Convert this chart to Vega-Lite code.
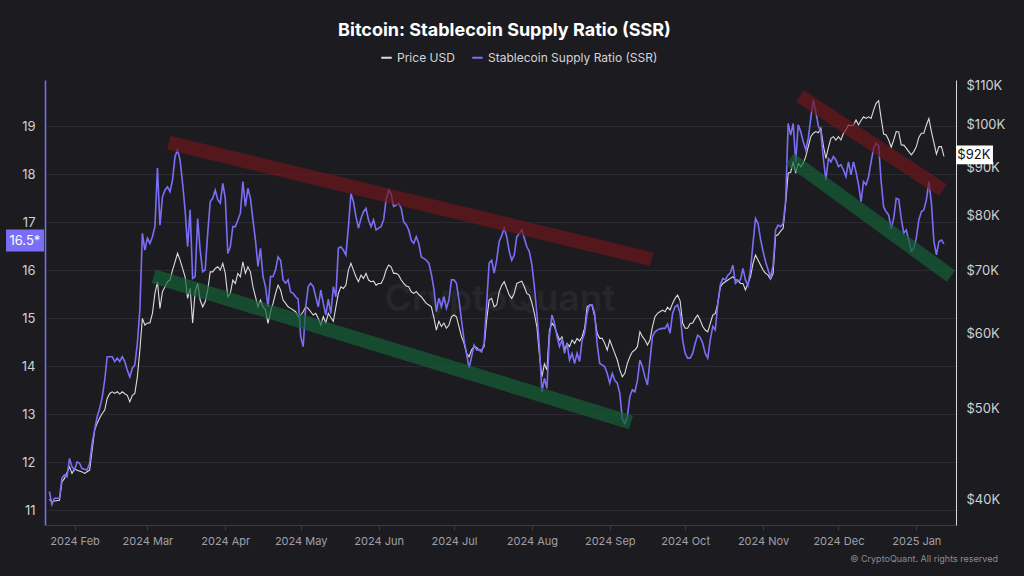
{
  "$schema": "https://vega.github.io/schema/vega-lite/v6.json",
  "width": 911,
  "height": 445,
  "autosize": {"type": "none"},
  "padding": {"left": 45, "top": 80, "right": 68, "bottom": 51},
  "background": "#1c1c20",
  "config": {"view": {"stroke": null}, "font": "Inter"},
  "title": {"text": "Bitcoin: Stablecoin Supply Ratio (SSR)", "color": "#ffffff", "fontSize": 18, "fontWeight": "bold", "font": "Inter", "anchor": "middle", "frame": "group", "dx": 4, "dy": 19, "offset": 16, "baseline": "alphabetic"},
  "datasets": {
    "ssr": [
      {"date":"2024-01-22","ssr":11.39},{"date":"2024-01-23","ssr":11.12},{"date":"2024-01-24","ssr":11.25},{"date":"2024-01-26","ssr":11.25},{"date":"2024-01-27","ssr":11.67},{"date":"2024-01-28","ssr":11.74},{"date":"2024-01-29","ssr":11.70},{"date":"2024-01-30","ssr":12.08},{"date":"2024-01-31","ssr":11.91},
      {"date":"2024-02-01","ssr":11.84},{"date":"2024-02-02","ssr":12.01},{"date":"2024-02-03","ssr":11.98},{"date":"2024-02-04","ssr":11.87},{"date":"2024-02-06","ssr":11.84},{"date":"2024-02-07","ssr":11.98},{"date":"2024-02-08","ssr":12.40},{"date":"2024-02-10","ssr":12.95},{"date":"2024-02-11","ssr":13.12},{"date":"2024-02-12","ssr":13.35},{"date":"2024-02-13","ssr":13.71},{"date":"2024-02-14","ssr":14.20},{"date":"2024-02-15","ssr":14.20},{"date":"2024-02-16","ssr":14.20},{"date":"2024-02-17","ssr":14.10},{"date":"2024-02-18","ssr":14.17},{"date":"2024-02-19","ssr":14.10},{"date":"2024-02-20","ssr":14.20},{"date":"2024-02-21","ssr":14.10},{"date":"2024-02-22","ssr":13.92},{"date":"2024-02-23","ssr":13.78},{"date":"2024-02-24","ssr":13.96},{"date":"2024-02-25","ssr":14.03},{"date":"2024-02-26","ssr":14.48},{"date":"2024-02-27","ssr":15.17},{"date":"2024-02-28","ssr":16.77},{"date":"2024-02-29","ssr":16.42},
      {"date":"2024-03-01","ssr":16.67},{"date":"2024-03-02","ssr":16.56},{"date":"2024-03-03","ssr":16.70},{"date":"2024-03-04","ssr":16.91},{"date":"2024-03-05","ssr":18.13},{"date":"2024-03-06","ssr":16.94},{"date":"2024-03-07","ssr":17.53},{"date":"2024-03-08","ssr":17.67},{"date":"2024-03-09","ssr":17.74},{"date":"2024-03-10","ssr":17.64},{"date":"2024-03-11","ssr":17.88},{"date":"2024-03-12","ssr":18.37},{"date":"2024-03-13","ssr":18.51},{"date":"2024-03-14","ssr":18.30},{"date":"2024-03-15","ssr":17.81},{"date":"2024-03-16","ssr":17.26},{"date":"2024-03-17","ssr":16.49},{"date":"2024-03-18","ssr":17.26},{"date":"2024-03-19","ssr":15.83},{"date":"2024-03-20","ssr":15.87},{"date":"2024-03-21","ssr":17.08},{"date":"2024-03-22","ssr":16.42},{"date":"2024-03-23","ssr":15.97},{"date":"2024-03-24","ssr":16.01},{"date":"2024-03-25","ssr":16.77},{"date":"2024-03-26","ssr":17.43},{"date":"2024-03-27","ssr":17.50},{"date":"2024-03-28","ssr":17.67},{"date":"2024-03-29","ssr":17.47},{"date":"2024-03-30","ssr":17.40},{"date":"2024-03-31","ssr":17.81},
      {"date":"2024-04-01","ssr":17.50},{"date":"2024-04-02","ssr":16.35},{"date":"2024-04-03","ssr":16.49},{"date":"2024-04-04","ssr":16.91},{"date":"2024-04-05","ssr":16.91},{"date":"2024-04-06","ssr":17.05},{"date":"2024-04-07","ssr":17.19},{"date":"2024-04-08","ssr":17.85},{"date":"2024-04-09","ssr":17.33},{"date":"2024-04-10","ssr":17.71},{"date":"2024-04-11","ssr":17.50},{"date":"2024-04-12","ssr":17.05},{"date":"2024-04-13","ssr":16.63},{"date":"2024-04-14","ssr":16.08},{"date":"2024-04-15","ssr":16.46},{"date":"2024-04-16","ssr":15.87},{"date":"2024-04-17","ssr":15.66},{"date":"2024-04-18","ssr":15.24},{"date":"2024-04-19","ssr":15.87},{"date":"2024-04-20","ssr":15.87},{"date":"2024-04-21","ssr":16.01},{"date":"2024-04-22","ssr":16.28},{"date":"2024-04-23","ssr":16.21},{"date":"2024-04-24","ssr":15.80},{"date":"2024-04-25","ssr":15.73},{"date":"2024-04-26","ssr":15.80},{"date":"2024-04-27","ssr":15.55},{"date":"2024-04-28","ssr":15.52},{"date":"2024-04-29","ssr":15.45},{"date":"2024-04-30","ssr":15.40},
      {"date":"2024-05-01","ssr":14.62},{"date":"2024-05-02","ssr":14.41},{"date":"2024-05-03","ssr":15.24},{"date":"2024-05-04","ssr":15.66},{"date":"2024-05-05","ssr":15.73},{"date":"2024-05-06","ssr":15.66},{"date":"2024-05-07","ssr":15.45},{"date":"2024-05-08","ssr":15.24},{"date":"2024-05-09","ssr":15.59},{"date":"2024-05-10","ssr":15.31},{"date":"2024-05-11","ssr":15.07},{"date":"2024-05-12","ssr":15.40},{"date":"2024-05-13","ssr":15.10},{"date":"2024-05-14","ssr":15.66},{"date":"2024-05-15","ssr":15.45},{"date":"2024-05-16","ssr":16.46},{"date":"2024-05-17","ssr":16.49},{"date":"2024-05-18","ssr":16.42},{"date":"2024-05-19","ssr":16.32},{"date":"2024-05-20","ssr":16.91},{"date":"2024-05-21","ssr":17.60},{"date":"2024-05-22","ssr":17.43},{"date":"2024-05-23","ssr":17.12},{"date":"2024-05-24","ssr":16.88},{"date":"2024-05-25","ssr":17.08},{"date":"2024-05-26","ssr":17.22},{"date":"2024-05-27","ssr":17.29},{"date":"2024-05-28","ssr":17.05},{"date":"2024-05-29","ssr":16.91},{"date":"2024-05-30","ssr":17.05},{"date":"2024-05-31","ssr":16.84},
      {"date":"2024-06-01","ssr":16.88},{"date":"2024-06-02","ssr":16.91},{"date":"2024-06-03","ssr":17.05},{"date":"2024-06-04","ssr":17.47},{"date":"2024-06-05","ssr":17.67},{"date":"2024-06-06","ssr":17.60},{"date":"2024-06-07","ssr":17.33},{"date":"2024-06-08","ssr":17.36},{"date":"2024-06-09","ssr":17.40},{"date":"2024-06-10","ssr":17.29},{"date":"2024-06-11","ssr":17.01},{"date":"2024-06-12","ssr":16.95},{"date":"2024-06-13","ssr":16.84},{"date":"2024-06-14","ssr":16.63},{"date":"2024-06-15","ssr":16.56},{"date":"2024-06-16","ssr":16.70},{"date":"2024-06-17","ssr":16.56},{"date":"2024-06-18","ssr":16.28},{"date":"2024-06-19","ssr":16.25},{"date":"2024-06-20","ssr":16.21},{"date":"2024-06-21","ssr":16.15},{"date":"2024-06-22","ssr":15.92},{"date":"2024-06-23","ssr":15.62},{"date":"2024-06-24","ssr":15.14},{"date":"2024-06-25","ssr":15.42},{"date":"2024-06-26","ssr":15.24},{"date":"2024-06-27","ssr":15.45},{"date":"2024-06-28","ssr":15.21},{"date":"2024-06-29","ssr":15.38},{"date":"2024-06-30","ssr":15.80},
      {"date":"2024-07-01","ssr":15.80},{"date":"2024-07-02","ssr":15.73},{"date":"2024-07-03","ssr":15.38},{"date":"2024-07-04","ssr":14.96},{"date":"2024-07-05","ssr":14.55},{"date":"2024-07-06","ssr":14.27},{"date":"2024-07-07","ssr":13.96},{"date":"2024-07-08","ssr":14.20},{"date":"2024-07-09","ssr":14.44},{"date":"2024-07-10","ssr":14.34},{"date":"2024-07-11","ssr":14.34},{"date":"2024-07-12","ssr":14.30},{"date":"2024-07-13","ssr":14.48},{"date":"2024-07-14","ssr":15.30},{"date":"2024-07-15","ssr":16.15},{"date":"2024-07-16","ssr":16.21},{"date":"2024-07-17","ssr":15.94},{"date":"2024-07-18","ssr":16.21},{"date":"2024-07-19","ssr":16.60},{"date":"2024-07-20","ssr":16.72},{"date":"2024-07-21","ssr":16.88},{"date":"2024-07-22","ssr":16.70},{"date":"2024-07-23","ssr":16.39},{"date":"2024-07-24","ssr":16.21},{"date":"2024-07-25","ssr":16.32},{"date":"2024-07-26","ssr":16.70},{"date":"2024-07-27","ssr":16.77},{"date":"2024-07-28","ssr":16.84},{"date":"2024-07-29","ssr":16.67},{"date":"2024-07-30","ssr":16.49},{"date":"2024-07-31","ssr":16.39},
      {"date":"2024-08-01","ssr":16.12},{"date":"2024-08-02","ssr":15.66},{"date":"2024-08-03","ssr":15.10},{"date":"2024-08-04","ssr":14.40},{"date":"2024-08-05","ssr":13.47},{"date":"2024-08-06","ssr":13.75},{"date":"2024-08-07","ssr":13.54},{"date":"2024-08-08","ssr":14.62},{"date":"2024-08-09","ssr":15.07},{"date":"2024-08-10","ssr":14.90},{"date":"2024-08-11","ssr":14.62},{"date":"2024-08-12","ssr":14.41},{"date":"2024-08-13","ssr":14.55},{"date":"2024-08-14","ssr":14.27},{"date":"2024-08-15","ssr":14.48},{"date":"2024-08-16","ssr":14.13},{"date":"2024-08-17","ssr":14.27},{"date":"2024-08-18","ssr":14.06},{"date":"2024-08-19","ssr":14.27},{"date":"2024-08-20","ssr":14.10},{"date":"2024-08-21","ssr":14.55},{"date":"2024-08-22","ssr":14.69},{"date":"2024-08-23","ssr":15.10},{"date":"2024-08-24","ssr":15.28},{"date":"2024-08-25","ssr":15.28},{"date":"2024-08-26","ssr":15.10},{"date":"2024-08-27","ssr":14.45},{"date":"2024-08-28","ssr":14.06},{"date":"2024-08-29","ssr":14.03},{"date":"2024-08-30","ssr":13.99},{"date":"2024-08-31","ssr":13.85},
      {"date":"2024-09-01","ssr":13.65},{"date":"2024-09-02","ssr":13.85},{"date":"2024-09-03","ssr":13.71},{"date":"2024-09-04","ssr":13.65},{"date":"2024-09-05","ssr":13.44},{"date":"2024-09-06","ssr":12.90},{"date":"2024-09-07","ssr":12.81},{"date":"2024-09-08","ssr":12.95},{"date":"2024-09-09","ssr":13.37},{"date":"2024-09-10","ssr":13.51},{"date":"2024-09-11","ssr":13.47},{"date":"2024-09-12","ssr":13.70},{"date":"2024-09-13","ssr":14.13},{"date":"2024-09-14","ssr":13.99},{"date":"2024-09-15","ssr":13.78},{"date":"2024-09-16","ssr":13.61},{"date":"2024-09-17","ssr":14.13},{"date":"2024-09-18","ssr":14.62},{"date":"2024-09-19","ssr":14.72},{"date":"2024-09-20","ssr":14.76},{"date":"2024-09-21","ssr":14.78},{"date":"2024-09-22","ssr":14.79},{"date":"2024-09-23","ssr":14.79},{"date":"2024-09-24","ssr":14.88},{"date":"2024-09-25","ssr":14.69},{"date":"2024-09-26","ssr":15.10},{"date":"2024-09-27","ssr":15.24},{"date":"2024-09-28","ssr":15.28},{"date":"2024-09-29","ssr":15.10},{"date":"2024-09-30","ssr":14.55},
      {"date":"2024-10-01","ssr":14.27},{"date":"2024-10-02","ssr":14.17},{"date":"2024-10-03","ssr":14.17},{"date":"2024-10-04","ssr":14.27},{"date":"2024-10-05","ssr":14.48},{"date":"2024-10-06","ssr":14.65},{"date":"2024-10-07","ssr":14.60},{"date":"2024-10-08","ssr":14.48},{"date":"2024-10-09","ssr":14.27},{"date":"2024-10-10","ssr":14.17},{"date":"2024-10-11","ssr":14.55},{"date":"2024-10-12","ssr":14.83},{"date":"2024-10-13","ssr":14.76},{"date":"2024-10-14","ssr":15.31},{"date":"2024-10-15","ssr":15.70},{"date":"2024-10-16","ssr":15.83},{"date":"2024-10-17","ssr":15.80},{"date":"2024-10-18","ssr":15.90},{"date":"2024-10-19","ssr":15.95},{"date":"2024-10-20","ssr":16.11},{"date":"2024-10-21","ssr":15.73},{"date":"2024-10-22","ssr":15.78},{"date":"2024-10-23","ssr":15.80},{"date":"2024-10-24","ssr":16.04},{"date":"2024-10-25","ssr":15.80},{"date":"2024-10-26","ssr":15.68},{"date":"2024-10-27","ssr":16.01},{"date":"2024-10-28","ssr":16.56},{"date":"2024-10-29","ssr":17.08},{"date":"2024-10-30","ssr":16.98},{"date":"2024-10-31","ssr":16.65},
      {"date":"2024-11-01","ssr":16.40},{"date":"2024-11-02","ssr":16.18},{"date":"2024-11-03","ssr":16.01},{"date":"2024-11-04","ssr":15.85},{"date":"2024-11-05","ssr":16.10},{"date":"2024-11-06","ssr":16.84},{"date":"2024-11-07","ssr":16.94},{"date":"2024-11-08","ssr":16.91},{"date":"2024-11-09","ssr":16.98},{"date":"2024-11-10","ssr":17.46},{"date":"2024-11-11","ssr":19.06},{"date":"2024-11-12","ssr":18.82},{"date":"2024-11-13","ssr":19.06},{"date":"2024-11-14","ssr":18.26},{"date":"2024-11-15","ssr":19.03},{"date":"2024-11-16","ssr":18.89},{"date":"2024-11-17","ssr":18.68},{"date":"2024-11-18","ssr":18.51},{"date":"2024-11-19","ssr":18.75},{"date":"2024-11-20","ssr":19.17},{"date":"2024-11-21","ssr":19.55},{"date":"2024-11-22","ssr":19.30},{"date":"2024-11-23","ssr":19.01},{"date":"2024-11-24","ssr":18.89},{"date":"2024-11-25","ssr":18.33},{"date":"2024-11-26","ssr":17.88},{"date":"2024-11-27","ssr":18.33},{"date":"2024-11-28","ssr":18.26},{"date":"2024-11-29","ssr":18.37},{"date":"2024-11-30","ssr":18.30},
      {"date":"2024-12-01","ssr":18.16},{"date":"2024-12-02","ssr":18.20},{"date":"2024-12-03","ssr":18.09},{"date":"2024-12-04","ssr":17.95},{"date":"2024-12-05","ssr":18.26},{"date":"2024-12-06","ssr":17.99},{"date":"2024-12-07","ssr":18.26},{"date":"2024-12-08","ssr":18.05},{"date":"2024-12-09","ssr":17.78},{"date":"2024-12-10","ssr":17.43},{"date":"2024-12-11","ssr":17.85},{"date":"2024-12-12","ssr":17.78},{"date":"2024-12-13","ssr":17.95},{"date":"2024-12-14","ssr":18.26},{"date":"2024-12-15","ssr":18.54},{"date":"2024-12-16","ssr":18.65},{"date":"2024-12-17","ssr":18.60},{"date":"2024-12-18","ssr":17.85},{"date":"2024-12-19","ssr":17.32},{"date":"2024-12-20","ssr":17.22},{"date":"2024-12-21","ssr":17.15},{"date":"2024-12-22","ssr":16.87},{"date":"2024-12-23","ssr":17.08},{"date":"2024-12-24","ssr":17.50},{"date":"2024-12-25","ssr":17.48},{"date":"2024-12-26","ssr":17.08},{"date":"2024-12-27","ssr":16.77},{"date":"2024-12-28","ssr":16.84},{"date":"2024-12-29","ssr":16.63},{"date":"2024-12-30","ssr":16.40},{"date":"2024-12-31","ssr":16.46},
      {"date":"2025-01-01","ssr":16.67},{"date":"2025-01-02","ssr":17.05},{"date":"2025-01-03","ssr":17.22},{"date":"2025-01-04","ssr":17.26},{"date":"2025-01-05","ssr":17.47},{"date":"2025-01-06","ssr":17.85},{"date":"2025-01-07","ssr":17.40},{"date":"2025-01-08","ssr":16.60},{"date":"2025-01-09","ssr":16.32},{"date":"2025-01-10","ssr":16.60},{"date":"2025-01-11","ssr":16.63},{"date":"2025-01-12","ssr":16.55}
    ],
    "price": [
      {"date":"2024-01-22","price":40000},{"date":"2024-01-23","price":39770},{"date":"2024-01-24","price":39850},{"date":"2024-01-26","price":39930},{"date":"2024-01-27","price":41760},{"date":"2024-01-28","price":42110},{"date":"2024-01-30","price":43320},{"date":"2024-01-31","price":42630},
      {"date":"2024-02-01","price":43150},{"date":"2024-02-02","price":42970},{"date":"2024-02-04","price":42790},{"date":"2024-02-05","price":42630},{"date":"2024-02-06","price":42800},{"date":"2024-02-07","price":42970},{"date":"2024-02-08","price":45130},{"date":"2024-02-09","price":47390},{"date":"2024-02-10","price":48170},{"date":"2024-02-11","price":48800},{"date":"2024-02-12","price":49360},{"date":"2024-02-13","price":49760},{"date":"2024-02-14","price":51200},{"date":"2024-02-15","price":51830},{"date":"2024-02-16","price":52040},{"date":"2024-02-17","price":51830},{"date":"2024-02-18","price":52040},{"date":"2024-02-19","price":51750},{"date":"2024-02-20","price":52040},{"date":"2024-02-21","price":51800},{"date":"2024-02-22","price":51600},{"date":"2024-02-23","price":50780},{"date":"2024-02-24","price":51600},{"date":"2024-02-25","price":51830},{"date":"2024-02-26","price":53980},{"date":"2024-02-27","price":57630},{"date":"2024-02-28","price":62270},{"date":"2024-02-29","price":61260},
      {"date":"2024-03-01","price":61570},{"date":"2024-03-02","price":61570},{"date":"2024-03-03","price":63030},{"date":"2024-03-04","price":66190},{"date":"2024-03-05","price":68100},{"date":"2024-03-06","price":63810},{"date":"2024-03-07","price":66450},{"date":"2024-03-08","price":67270},{"date":"2024-03-09","price":68100},{"date":"2024-03-10","price":68380},{"date":"2024-03-11","price":70070},{"date":"2024-03-12","price":71500},{"date":"2024-03-13","price":73000},{"date":"2024-03-14","price":71800},{"date":"2024-03-15","price":70350},{"date":"2024-03-16","price":68930},{"date":"2024-03-17","price":65390},{"date":"2024-03-18","price":67000},{"date":"2024-03-19","price":61570},{"date":"2024-03-20","price":66500},{"date":"2024-03-21","price":67820},{"date":"2024-03-22","price":65120},{"date":"2024-03-23","price":64060},{"date":"2024-03-24","price":64850},{"date":"2024-03-25","price":66730},{"date":"2024-03-26","price":69770},{"date":"2024-03-27","price":69770},{"date":"2024-03-28","price":70350},{"date":"2024-03-29","price":70640},{"date":"2024-03-30","price":70070},{"date":"2024-03-31","price":71220},
      {"date":"2024-04-01","price":69500},{"date":"2024-04-02","price":65650},{"date":"2024-04-03","price":66190},{"date":"2024-04-04","price":68380},{"date":"2024-04-05","price":67820},{"date":"2024-04-06","price":69500},{"date":"2024-04-07","price":68930},{"date":"2024-04-08","price":71510},{"date":"2024-04-09","price":69500},{"date":"2024-04-10","price":70640},{"date":"2024-04-11","price":69770},{"date":"2024-04-12","price":67270},{"date":"2024-04-13","price":65650},{"date":"2024-04-14","price":64060},{"date":"2024-04-15","price":65120},{"date":"2024-04-16","price":64060},{"date":"2024-04-17","price":63550},{"date":"2024-04-18","price":61510},{"date":"2024-04-19","price":63300},{"date":"2024-04-20","price":64590},{"date":"2024-04-21","price":66190},{"date":"2024-04-22","price":67540},{"date":"2024-04-23","price":66730},{"date":"2024-04-24","price":65120},{"date":"2024-04-25","price":64590},{"date":"2024-04-26","price":64060},{"date":"2024-04-27","price":63810},{"date":"2024-04-28","price":63550},{"date":"2024-04-29","price":63290},{"date":"2024-04-30","price":62520},
      {"date":"2024-05-01","price":62780},{"date":"2024-05-02","price":63290},{"date":"2024-05-03","price":64060},{"date":"2024-05-04","price":63810},{"date":"2024-05-05","price":63290},{"date":"2024-05-06","price":62780},{"date":"2024-05-07","price":63030},{"date":"2024-05-08","price":62270},{"date":"2024-05-09","price":61260},{"date":"2024-05-10","price":62520},{"date":"2024-05-11","price":61570},{"date":"2024-05-12","price":63030},{"date":"2024-05-13","price":62400},{"date":"2024-05-14","price":61820},{"date":"2024-05-15","price":64000},{"date":"2024-05-16","price":66190},{"date":"2024-05-17","price":67270},{"date":"2024-05-18","price":67000},{"date":"2024-05-19","price":67540},{"date":"2024-05-20","price":70070},{"date":"2024-05-21","price":71220},{"date":"2024-05-22","price":70070},{"date":"2024-05-23","price":68930},{"date":"2024-05-24","price":68100},{"date":"2024-05-25","price":69210},{"date":"2024-05-26","price":68660},{"date":"2024-05-27","price":69500},{"date":"2024-05-28","price":68380},{"date":"2024-05-29","price":68100},{"date":"2024-05-30","price":68200},{"date":"2024-05-31","price":67540},
      {"date":"2024-06-01","price":67820},{"date":"2024-06-02","price":67820},{"date":"2024-06-03","price":68660},{"date":"2024-06-04","price":70070},{"date":"2024-06-05","price":70930},{"date":"2024-06-06","price":70640},{"date":"2024-06-07","price":69500},{"date":"2024-06-08","price":69500},{"date":"2024-06-09","price":69210},{"date":"2024-06-10","price":68380},{"date":"2024-06-11","price":67820},{"date":"2024-06-12","price":67400},{"date":"2024-06-13","price":67270},{"date":"2024-06-14","price":66450},{"date":"2024-06-15","price":66190},{"date":"2024-06-16","price":66500},{"date":"2024-06-17","price":66000},{"date":"2024-06-18","price":65650},{"date":"2024-06-19","price":65120},{"date":"2024-06-20","price":64600},{"date":"2024-06-21","price":64330},{"date":"2024-06-22","price":64060},{"date":"2024-06-23","price":62400},{"date":"2024-06-24","price":60520},{"date":"2024-06-25","price":61820},{"date":"2024-06-26","price":61040},{"date":"2024-06-27","price":61570},{"date":"2024-06-28","price":60780},{"date":"2024-06-29","price":61260},{"date":"2024-06-30","price":62520},
      {"date":"2024-07-01","price":62780},{"date":"2024-07-02","price":62520},{"date":"2024-07-03","price":61040},{"date":"2024-07-04","price":59540},{"date":"2024-07-05","price":58580},{"date":"2024-07-06","price":57160},{"date":"2024-07-07","price":56690},{"date":"2024-07-08","price":57630},{"date":"2024-07-09","price":58110},{"date":"2024-07-10","price":58000},{"date":"2024-07-11","price":57630},{"date":"2024-07-12","price":57630},{"date":"2024-07-13","price":58110},{"date":"2024-07-14","price":62000},{"date":"2024-07-15","price":65120},{"date":"2024-07-16","price":65390},{"date":"2024-07-17","price":64060},{"date":"2024-07-18","price":64330},{"date":"2024-07-19","price":66450},{"date":"2024-07-20","price":67500},{"date":"2024-07-21","price":68100},{"date":"2024-07-22","price":67000},{"date":"2024-07-23","price":65930},{"date":"2024-07-24","price":65390},{"date":"2024-07-25","price":66190},{"date":"2024-07-26","price":67820},{"date":"2024-07-27","price":68000},{"date":"2024-07-28","price":68200},{"date":"2024-07-29","price":67270},{"date":"2024-07-30","price":66190},{"date":"2024-07-31","price":65930},
      {"date":"2024-08-01","price":64700},{"date":"2024-08-02","price":63030},{"date":"2024-08-03","price":61000},{"date":"2024-08-04","price":57000},{"date":"2024-08-05","price":53980},{"date":"2024-08-06","price":55700},{"date":"2024-08-07","price":54880},{"date":"2024-08-08","price":60520},{"date":"2024-08-09","price":61570},{"date":"2024-08-10","price":61040},{"date":"2024-08-11","price":60020},{"date":"2024-08-12","price":59060},{"date":"2024-08-13","price":59540},{"date":"2024-08-14","price":57630},{"date":"2024-08-15","price":58580},{"date":"2024-08-16","price":58110},{"date":"2024-08-17","price":59060},{"date":"2024-08-18","price":58580},{"date":"2024-08-19","price":59300},{"date":"2024-08-20","price":58900},{"date":"2024-08-21","price":59540},{"date":"2024-08-22","price":60800},{"date":"2024-08-23","price":64060},{"date":"2024-08-24","price":64330},{"date":"2024-08-25","price":64200},{"date":"2024-08-26","price":62520},{"date":"2024-08-27","price":60000},{"date":"2024-08-28","price":59300},{"date":"2024-08-29","price":59300},{"date":"2024-08-30","price":58580},{"date":"2024-08-31","price":57630},
      {"date":"2024-09-01","price":59060},{"date":"2024-09-02","price":58110},{"date":"2024-09-03","price":57160},{"date":"2024-09-04","price":56240},{"date":"2024-09-05","price":54900},{"date":"2024-09-06","price":53980},{"date":"2024-09-07","price":54440},{"date":"2024-09-08","price":55790},{"date":"2024-09-09","price":56690},{"date":"2024-09-10","price":57390},{"date":"2024-09-11","price":57630},{"date":"2024-09-12","price":58110},{"date":"2024-09-13","price":60260},{"date":"2024-09-14","price":59540},{"date":"2024-09-15","price":59060},{"date":"2024-09-16","price":58350},{"date":"2024-09-17","price":59060},{"date":"2024-09-18","price":61040},{"date":"2024-09-19","price":62520},{"date":"2024-09-20","price":63030},{"date":"2024-09-21","price":63290},{"date":"2024-09-22","price":63550},{"date":"2024-09-23","price":63290},{"date":"2024-09-24","price":64000},{"date":"2024-09-25","price":63550},{"date":"2024-09-26","price":64590},{"date":"2024-09-27","price":65390},{"date":"2024-09-28","price":65930},{"date":"2024-09-29","price":65000},{"date":"2024-09-30","price":61570},
      {"date":"2024-10-01","price":60780},{"date":"2024-10-02","price":60780},{"date":"2024-10-03","price":61510},{"date":"2024-10-04","price":61570},{"date":"2024-10-05","price":62270},{"date":"2024-10-06","price":62780},{"date":"2024-10-07","price":62000},{"date":"2024-10-08","price":61040},{"date":"2024-10-09","price":60520},{"date":"2024-10-10","price":60260},{"date":"2024-10-11","price":61510},{"date":"2024-10-12","price":62780},{"date":"2024-10-13","price":63030},{"date":"2024-10-14","price":64590},{"date":"2024-10-15","price":67200},{"date":"2024-10-16","price":67820},{"date":"2024-10-17","price":68100},{"date":"2024-10-18","price":68380},{"date":"2024-10-19","price":68660},{"date":"2024-10-20","price":68930},{"date":"2024-10-21","price":68380},{"date":"2024-10-22","price":68380},{"date":"2024-10-23","price":67820},{"date":"2024-10-24","price":67820},{"date":"2024-10-25","price":66730},{"date":"2024-10-26","price":67820},{"date":"2024-10-27","price":68930},{"date":"2024-10-28","price":71220},{"date":"2024-10-29","price":72700},{"date":"2024-10-30","price":71800},{"date":"2024-10-31","price":70930},
      {"date":"2024-11-01","price":70070},{"date":"2024-11-02","price":69500},{"date":"2024-11-03","price":69210},{"date":"2024-11-04","price":68500},{"date":"2024-11-05","price":69500},{"date":"2024-11-06","price":76130},{"date":"2024-11-07","price":76440},{"date":"2024-11-08","price":77070},{"date":"2024-11-09","price":77600},{"date":"2024-11-10","price":82500},{"date":"2024-11-11","price":88800},{"date":"2024-11-12","price":89000},{"date":"2024-11-13","price":91350},{"date":"2024-11-14","price":88800},{"date":"2024-11-15","price":90990},{"date":"2024-11-16","price":90200},{"date":"2024-11-17","price":91000},{"date":"2024-11-18","price":92460},{"date":"2024-11-19","price":94740},{"date":"2024-11-20","price":97090},{"date":"2024-11-21","price":97900},{"date":"2024-11-22","price":98300},{"date":"2024-11-23","price":98000},{"date":"2024-11-24","price":99100},{"date":"2024-11-25","price":95000},{"date":"2024-11-26","price":92080},{"date":"2024-11-27","price":94500},{"date":"2024-11-28","price":96700},{"date":"2024-11-29","price":97090},{"date":"2024-11-30","price":96300},
      {"date":"2024-12-01","price":97090},{"date":"2024-12-02","price":96300},{"date":"2024-12-03","price":97900},{"date":"2024-12-04","price":98700},{"date":"2024-12-05","price":99900},{"date":"2024-12-06","price":99700},{"date":"2024-12-07","price":99900},{"date":"2024-12-08","price":101100},{"date":"2024-12-09","price":99900},{"date":"2024-12-10","price":101000},{"date":"2024-12-11","price":101900},{"date":"2024-12-12","price":101500},{"date":"2024-12-13","price":101900},{"date":"2024-12-14","price":101500},{"date":"2024-12-15","price":103600},{"date":"2024-12-16","price":105300},{"date":"2024-12-17","price":106000},{"date":"2024-12-18","price":101500},{"date":"2024-12-19","price":97700},{"date":"2024-12-20","price":97500},{"date":"2024-12-21","price":96300},{"date":"2024-12-22","price":94600},{"date":"2024-12-23","price":96300},{"date":"2024-12-24","price":98300},{"date":"2024-12-25","price":98200},{"date":"2024-12-26","price":95140},{"date":"2024-12-27","price":95100},{"date":"2024-12-28","price":94400},{"date":"2024-12-29","price":93600},{"date":"2024-12-30","price":92840},{"date":"2024-12-31","price":93600},
      {"date":"2025-01-01","price":94740},{"date":"2025-01-02","price":96900},{"date":"2025-01-03","price":97900},{"date":"2025-01-04","price":97900},{"date":"2025-01-05","price":99900},{"date":"2025-01-06","price":101500},{"date":"2025-01-07","price":98300},{"date":"2025-01-08","price":95700},{"date":"2025-01-09","price":93000},{"date":"2025-01-10","price":94740},{"date":"2025-01-11","price":94740},{"date":"2025-01-12","price":92500}
    ],
    "resistance": [
      {"band":"r1","date":"2024-03-09T12:00:00Z","ssr":18.66},{"band":"r1","date":"2024-09-17T17:00:00Z","ssr":16.23},
      {"band":"r2","date":"2024-11-15T17:00:00Z","ssr":19.63},{"band":"r2","date":"2025-01-11T14:00:00Z","ssr":17.67}
    ],
    "support": [
      {"band":"s1","date":"2024-03-03T12:00:00Z","ssr":15.875},{"band":"s1","date":"2024-09-09T10:00:00Z","ssr":12.83},
      {"band":"s2","date":"2024-11-11T17:00:00Z","ssr":18.32},{"band":"s2","date":"2025-01-14T19:00:00Z","ssr":15.88}
    ],
    "ssrTag": [{"label":"16.5*","date":"2024-01-12T06:00:00Z","start":"2024-01-04T18:00:00Z","end":"2024-01-19T21:00:00Z","value":16.61,"low":16.39,"high":16.85}],
    "priceTag": [{"label":"$92K","date":"2025-01-23T22:00:00Z","start":"2025-01-16T19:00:00Z","end":"2025-01-31T12:00:00Z","value":92840,"low":90760,"high":95000}],
    "marks": [
      {"label":"CryptoQuant","date":"2024-07-19T08:00:00Z","price":65120,"kind":"watermark"},
      {"label":"© CryptoQuant. All rights reserved","date":"2025-02-02T12:00:00Z","price":34570,"kind":"footer"}
    ]
  },
  "layer": [
    {
      "layer": [
        {
          "data": {"name": "marks"},
          "transform": [{"filter": "datum.kind === 'watermark'"}],
          "mark": {"type": "text", "fontSize": 37, "fontWeight": 600, "color": "#26262b", "align": "center", "baseline": "middle", "font": "Inter"},
          "encoding": {
            "x": {"field": "date", "type": "temporal", "scale": {"type": "utc", "domain": ["2024-01-20T06:00:00Z", "2025-01-16T19:00:00Z"]}, "axis": {"format": "%Y %b", "tickCount": {"interval": "month", "step": 1}, "grid": false, "domainColor": "#3a3a42", "tickColor": "#3a3a42", "tickSize": 5, "labelColor": "#a0a0a8", "labelFontSize": 11, "labelPadding": 5, "title": null, "labelFont": "Inter", "labelFlush": false}},
            "y": {"field": "price", "type": "quantitative", "scale": {"type": "log", "domain": [37580, 111500], "nice": false}, "axis": {"orient": "right", "values": [40000, 50000, 60000, 70000, 80000, 90000, 100000, 110000], "labelExpr": "'$' + format(datum.value / 1000, 'd') + 'K'", "grid": false, "domainColor": "#d8d8dc", "ticks": false, "tickSize": 0, "labelPadding": 10, "labelColor": "#cfcfd4", "labelFontSize": 13, "labelFont": "Inter", "title": null}},
            "text": {"field": "label"}
          }
        },
        {
          "data": {"name": "price"},
          "mark": {"type": "line", "strokeWidth": 1.1},
          "encoding": {
            "x": {"field": "date", "type": "temporal", "scale": {"type": "utc", "domain": ["2024-01-20T06:00:00Z", "2025-01-16T19:00:00Z"]}, "axis": {"format": "%Y %b", "tickCount": {"interval": "month", "step": 1}, "grid": false, "domainColor": "#3a3a42", "tickColor": "#3a3a42", "tickSize": 5, "labelColor": "#a0a0a8", "labelFontSize": 11, "labelPadding": 5, "title": null, "labelFont": "Inter", "labelFlush": false}},
            "y": {"field": "price", "type": "quantitative", "scale": {"type": "log", "domain": [37580, 111500], "nice": false}, "axis": {"orient": "right", "values": [40000, 50000, 60000, 70000, 80000, 90000, 100000, 110000], "labelExpr": "'$' + format(datum.value / 1000, 'd') + 'K'", "grid": false, "domainColor": "#d8d8dc", "ticks": false, "tickSize": 0, "labelPadding": 10, "labelColor": "#cfcfd4", "labelFontSize": 13, "labelFont": "Inter", "title": null}},
            "color": {"datum": "Price USD", "type": "nominal",
              "scale": {"domain": ["Price USD", "Stablecoin Supply Ratio (SSR)"], "range": ["#dcdce0", "#7b6ef6"]},
              "legend": {"orient": "none", "legendX": 335, "legendY": -29, "direction": "horizontal", "title": null, "symbolType": "stroke", "symbolStrokeWidth": 2, "symbolSize": 110, "labelColor": "#d4d4da", "labelFontSize": 12, "labelFont": "Inter", "labelLimit": 400, "columnPadding": 13, "labelOffset": 4}}
          }
        },
        {
          "data": {"name": "priceTag"},
          "mark": {"type": "rect", "color": "#ffffff"},
          "encoding": {
            "x": {"field": "start", "type": "temporal", "scale": {"type": "utc", "domain": ["2024-01-20T06:00:00Z", "2025-01-16T19:00:00Z"]}, "axis": {"format": "%Y %b", "tickCount": {"interval": "month", "step": 1}, "grid": false, "domainColor": "#3a3a42", "tickColor": "#3a3a42", "tickSize": 5, "labelColor": "#a0a0a8", "labelFontSize": 11, "labelPadding": 5, "title": null, "labelFont": "Inter", "labelFlush": false}},
            "x2": {"field": "end"},
            "y": {"field": "low", "type": "quantitative", "scale": {"type": "log", "domain": [37580, 111500], "nice": false}, "axis": {"orient": "right", "values": [40000, 50000, 60000, 70000, 80000, 90000, 100000, 110000], "labelExpr": "'$' + format(datum.value / 1000, 'd') + 'K'", "grid": false, "domainColor": "#d8d8dc", "ticks": false, "tickSize": 0, "labelPadding": 10, "labelColor": "#cfcfd4", "labelFontSize": 13, "labelFont": "Inter", "title": null}},
            "y2": {"field": "high"}
          }
        },
        {
          "data": {"name": "priceTag"},
          "mark": {"type": "text", "color": "#111111", "fontSize": 13, "align": "center", "baseline": "middle", "font": "Inter"},
          "encoding": {
            "x": {"field": "date", "type": "temporal", "scale": {"type": "utc", "domain": ["2024-01-20T06:00:00Z", "2025-01-16T19:00:00Z"]}, "axis": {"format": "%Y %b", "tickCount": {"interval": "month", "step": 1}, "grid": false, "domainColor": "#3a3a42", "tickColor": "#3a3a42", "tickSize": 5, "labelColor": "#a0a0a8", "labelFontSize": 11, "labelPadding": 5, "title": null, "labelFont": "Inter", "labelFlush": false}},
            "y": {"field": "value", "type": "quantitative", "scale": {"type": "log", "domain": [37580, 111500], "nice": false}, "axis": {"orient": "right", "values": [40000, 50000, 60000, 70000, 80000, 90000, 100000, 110000], "labelExpr": "'$' + format(datum.value / 1000, 'd') + 'K'", "grid": false, "domainColor": "#d8d8dc", "ticks": false, "tickSize": 0, "labelPadding": 10, "labelColor": "#cfcfd4", "labelFontSize": 13, "labelFont": "Inter", "title": null}},
            "text": {"field": "label"}
          }
        },
        {
          "data": {"name": "marks"},
          "transform": [{"filter": "datum.kind === 'footer'"}],
          "mark": {"type": "text", "fontSize": 9, "color": "#8c8c93", "align": "right", "baseline": "middle", "font": "Inter"},
          "encoding": {
            "x": {"field": "date", "type": "temporal", "scale": {"type": "utc", "domain": ["2024-01-20T06:00:00Z", "2025-01-16T19:00:00Z"]}, "axis": {"format": "%Y %b", "tickCount": {"interval": "month", "step": 1}, "grid": false, "domainColor": "#3a3a42", "tickColor": "#3a3a42", "tickSize": 5, "labelColor": "#a0a0a8", "labelFontSize": 11, "labelPadding": 5, "title": null, "labelFont": "Inter", "labelFlush": false}},
            "y": {"field": "price", "type": "quantitative", "scale": {"type": "log", "domain": [37580, 111500], "nice": false}, "axis": {"orient": "right", "values": [40000, 50000, 60000, 70000, 80000, 90000, 100000, 110000], "labelExpr": "'$' + format(datum.value / 1000, 'd') + 'K'", "grid": false, "domainColor": "#d8d8dc", "ticks": false, "tickSize": 0, "labelPadding": 10, "labelColor": "#cfcfd4", "labelFontSize": 13, "labelFont": "Inter", "title": null}},
            "text": {"field": "label"}
          }
        }
      ]
    },
    {
      "layer": [
        {
          "data": {"name": "ssr"},
          "mark": {"type": "line", "strokeWidth": 1.6},
          "encoding": {
            "x": {"field": "date", "type": "temporal", "scale": {"type": "utc", "domain": ["2024-01-20T06:00:00Z", "2025-01-16T19:00:00Z"]}, "axis": {"format": "%Y %b", "tickCount": {"interval": "month", "step": 1}, "grid": false, "domainColor": "#3a3a42", "tickColor": "#3a3a42", "tickSize": 5, "labelColor": "#a0a0a8", "labelFontSize": 11, "labelPadding": 5, "title": null, "labelFont": "Inter", "labelFlush": false}},
            "y": {"field": "ssr", "type": "quantitative", "scale": {"domain": [10.694, 19.965], "nice": false, "zero": false}, "axis": {"orient": "left", "values": [11, 12, 13, 14, 15, 16, 17, 18, 19], "grid": true, "gridColor": "#2a2a30", "domainColor": "#7b6ef6", "domainWidth": 1.5, "ticks": false, "tickSize": 0, "labelPadding": 10, "labelColor": "#cfcfd4", "labelFontSize": 13, "labelFont": "Inter", "title": null}},
            "color": {"datum": "Stablecoin Supply Ratio (SSR)", "type": "nominal"}
          }
        },
        {
          "data": {"name": "resistance"},
          "mark": {"type": "line", "color": "#6e151a", "opacity": 0.68, "strokeWidth": 14, "strokeCap": "butt"},
          "encoding": {
            "x": {"field": "date", "type": "temporal", "scale": {"type": "utc", "domain": ["2024-01-20T06:00:00Z", "2025-01-16T19:00:00Z"]}, "axis": {"format": "%Y %b", "tickCount": {"interval": "month", "step": 1}, "grid": false, "domainColor": "#3a3a42", "tickColor": "#3a3a42", "tickSize": 5, "labelColor": "#a0a0a8", "labelFontSize": 11, "labelPadding": 5, "title": null, "labelFont": "Inter", "labelFlush": false}},
            "y": {"field": "ssr", "type": "quantitative", "scale": {"domain": [10.694, 19.965], "nice": false, "zero": false}, "axis": {"orient": "left", "values": [11, 12, 13, 14, 15, 16, 17, 18, 19], "grid": true, "gridColor": "#2a2a30", "domainColor": "#7b6ef6", "domainWidth": 1.5, "ticks": false, "tickSize": 0, "labelPadding": 10, "labelColor": "#cfcfd4", "labelFontSize": 13, "labelFont": "Inter", "title": null}},
            "detail": {"field": "band"}
          }
        },
        {
          "data": {"name": "support"},
          "mark": {"type": "line", "color": "#156236", "opacity": 0.68, "strokeWidth": 14, "strokeCap": "butt"},
          "encoding": {
            "x": {"field": "date", "type": "temporal", "scale": {"type": "utc", "domain": ["2024-01-20T06:00:00Z", "2025-01-16T19:00:00Z"]}, "axis": {"format": "%Y %b", "tickCount": {"interval": "month", "step": 1}, "grid": false, "domainColor": "#3a3a42", "tickColor": "#3a3a42", "tickSize": 5, "labelColor": "#a0a0a8", "labelFontSize": 11, "labelPadding": 5, "title": null, "labelFont": "Inter", "labelFlush": false}},
            "y": {"field": "ssr", "type": "quantitative", "scale": {"domain": [10.694, 19.965], "nice": false, "zero": false}, "axis": {"orient": "left", "values": [11, 12, 13, 14, 15, 16, 17, 18, 19], "grid": true, "gridColor": "#2a2a30", "domainColor": "#7b6ef6", "domainWidth": 1.5, "ticks": false, "tickSize": 0, "labelPadding": 10, "labelColor": "#cfcfd4", "labelFontSize": 13, "labelFont": "Inter", "title": null}},
            "detail": {"field": "band"}
          }
        },
        {
          "data": {"name": "ssrTag"},
          "mark": {"type": "rect", "color": "#7b6ef6"},
          "encoding": {
            "x": {"field": "start", "type": "temporal", "scale": {"type": "utc", "domain": ["2024-01-20T06:00:00Z", "2025-01-16T19:00:00Z"]}, "axis": {"format": "%Y %b", "tickCount": {"interval": "month", "step": 1}, "grid": false, "domainColor": "#3a3a42", "tickColor": "#3a3a42", "tickSize": 5, "labelColor": "#a0a0a8", "labelFontSize": 11, "labelPadding": 5, "title": null, "labelFont": "Inter", "labelFlush": false}},
            "x2": {"field": "end"},
            "y": {"field": "low", "type": "quantitative", "scale": {"domain": [10.694, 19.965], "nice": false, "zero": false}, "axis": {"orient": "left", "values": [11, 12, 13, 14, 15, 16, 17, 18, 19], "grid": true, "gridColor": "#2a2a30", "domainColor": "#7b6ef6", "domainWidth": 1.5, "ticks": false, "tickSize": 0, "labelPadding": 10, "labelColor": "#cfcfd4", "labelFontSize": 13, "labelFont": "Inter", "title": null}},
            "y2": {"field": "high"}
          }
        },
        {
          "data": {"name": "ssrTag"},
          "mark": {"type": "text", "color": "#ffffff", "fontSize": 13, "align": "center", "baseline": "middle", "font": "Inter"},
          "encoding": {
            "x": {"field": "date", "type": "temporal", "scale": {"type": "utc", "domain": ["2024-01-20T06:00:00Z", "2025-01-16T19:00:00Z"]}, "axis": {"format": "%Y %b", "tickCount": {"interval": "month", "step": 1}, "grid": false, "domainColor": "#3a3a42", "tickColor": "#3a3a42", "tickSize": 5, "labelColor": "#a0a0a8", "labelFontSize": 11, "labelPadding": 5, "title": null, "labelFont": "Inter", "labelFlush": false}},
            "y": {"field": "value", "type": "quantitative", "scale": {"domain": [10.694, 19.965], "nice": false, "zero": false}, "axis": {"orient": "left", "values": [11, 12, 13, 14, 15, 16, 17, 18, 19], "grid": true, "gridColor": "#2a2a30", "domainColor": "#7b6ef6", "domainWidth": 1.5, "ticks": false, "tickSize": 0, "labelPadding": 10, "labelColor": "#cfcfd4", "labelFontSize": 13, "labelFont": "Inter", "title": null}},
            "text": {"field": "label"}
          }
        }
      ]
    }
  ],
  "resolve": {"scale": {"y": "independent"}}
}
